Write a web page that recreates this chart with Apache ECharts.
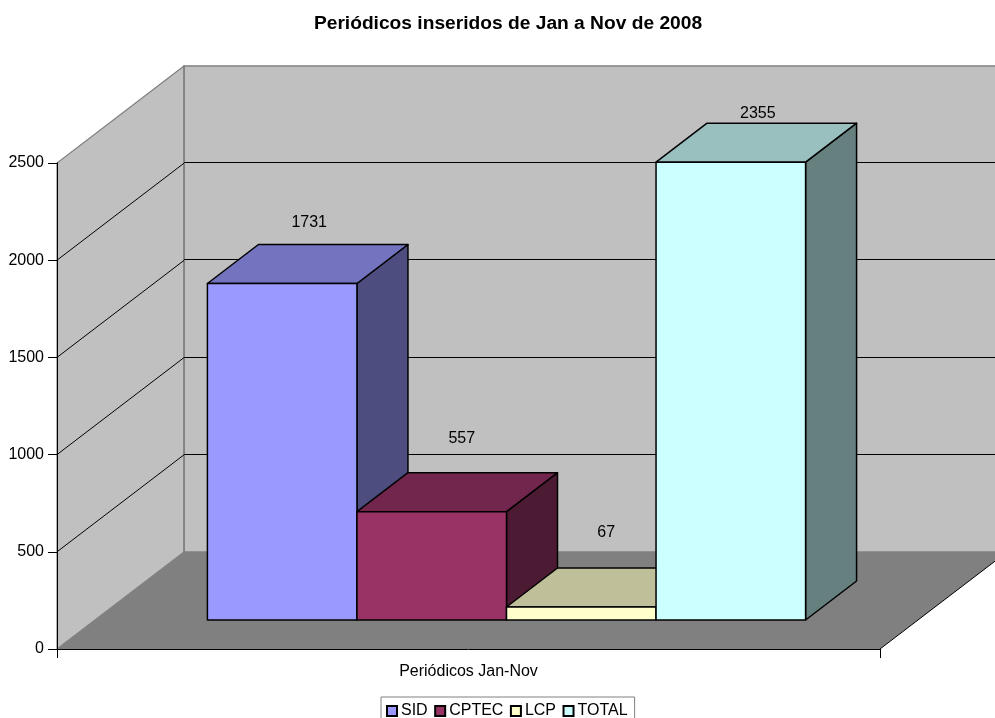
<!DOCTYPE html>
<html>
<head>
<meta charset="utf-8">
<style>html,body{margin:0;padding:0;background:#fff;overflow:hidden}#c{width:995px;height:718px}</style>
<script src="https://cdn.jsdelivr.net/npm/echarts@6/dist/echarts.min.js"></script>
</head>
<body>
<div id="c"></div>
<script>
// --- data ---
const titleText = 'Periódicos inseridos de Jan a Nov de 2008';
const categories = ['Periódicos Jan-Nov'];
const seriesNames = ['SID', 'CPTEC', 'LCP', 'TOTAL'];
const sidValues = [1731];
const cptecValues = [557];
const lcpValues = [67];
const totalValues = [2355];
const yTicks = [0, 500, 1000, 1500, 2000, 2500];

// --- style ---
const frontColors = ['#9999ff', '#993366', '#ffffcc', '#ccffff'];
const topColors = ['#7373bf', '#73264d', '#bfbf99', '#99bfbf'];
const sideColors = ['#4d4d80', '#4d1a33', '#808066', '#668080'];
const labelShiftX = [27, 30, 25, 27];
const labelShiftY = [61, 73, 74, 49];
const FONT = '"Liberation Sans", Arial, sans-serif';
const WALL_DX = 127, WALL_DY = 97;
const BAR_INSET_DX = 38, BAR_INSET_DY = 29;
const BAR_DX = 51, BAR_DY = 39;
const BAR_FRACTION = 0.1817;

const crisp = v => Math.round(v) + 0.5;

function renderWalls(params, api) {
  const base = api.coord([0, 0]);
  const band = api.size([1, 0])[0];
  const x0 = base[0] - band / 2, x1 = base[0] + band / 2, y0 = base[1];
  const yTop = api.coord([0, yTicks[yTicks.length - 1]])[1];
  const children = [];
  const poly = (points, fill, stroke, lw) => children.push({
    type: 'polygon', shape: { points: points },
    style: { fill: fill, stroke: stroke, lineWidth: lw }
  });
  const line = (a, b, stroke, lw) => children.push({
    type: 'line', shape: { x1: a[0], y1: a[1], x2: b[0], y2: b[1] },
    style: { stroke: stroke, lineWidth: lw, fill: null }
  });
  // back wall
  poly([[x0 + WALL_DX, yTop - WALL_DY], [x1 + WALL_DX, yTop - WALL_DY], [x1 + WALL_DX, y0 - WALL_DY], [x0 + WALL_DX, y0 - WALL_DY]], '#c0c0c0', '#808080', 1.5);
  // side wall
  poly([[x0, y0], [x0 + WALL_DX, y0 - WALL_DY], [x0 + WALL_DX, yTop - WALL_DY], [x0, yTop]], '#c0c0c0', '#808080', 1.2);
  // floor
  poly([[x0, y0], [x1, y0], [x1 + WALL_DX, y0 - WALL_DY], [x0 + WALL_DX, y0 - WALL_DY]], '#808080', null, 0);
  line([x1, y0], [x1 + WALL_DX, y0 - WALL_DY], '#000', 1);
  line([x0 + WALL_DX, y0 - WALL_DY], [x0 + WALL_DX, yTop - WALL_DY], '#808080', 1.5);
  // grid lines
  yTicks.slice(1, -1).forEach(v => {
    const y = api.coord([0, v])[1];
    line([x0, y], [x0 + WALL_DX, y - WALL_DY], '#000', 1);
    line([x0 + WALL_DX, crisp(y - WALL_DY) - 1], [x1 + WALL_DX, crisp(y - WALL_DY) - 1], '#000', 1);
  });
  return { type: 'group', children: children };
}

function makeBarRenderer(i) {
  return function (params, api) {
    const value = api.value(1);
    const base = api.coord([0, 0]);
    const band = api.size([1, 0])[0];
    const w = band * BAR_FRACTION;
    const left = base[0] + BAR_INSET_DX + (i - seriesNames.length / 2) * w;
    const right = left + w;
    const bottom = base[1] - BAR_INSET_DY;
    const top = bottom - (base[1] - api.coord([0, value])[1]);
    const edge = { stroke: '#000', lineWidth: 1.5, lineJoin: 'round' };
    const face = (points, fill) => ({
      type: 'polygon', shape: { points: points },
      style: Object.assign({ fill: fill }, edge)
    });
    return {
      type: 'group',
      children: [
        face([[right, bottom], [right + BAR_DX, bottom - BAR_DY], [right + BAR_DX, top - BAR_DY], [right, top]], sideColors[i]),
        face([[left, top], [right, top], [right + BAR_DX, top - BAR_DY], [left + BAR_DX, top - BAR_DY]], topColors[i]),
        face([[left, bottom], [right, bottom], [right, top], [left, top]], frontColors[i]),
        {
          type: 'text',
          z2: 100,
          style: {
            x: (left + right) / 2 + labelShiftX[i],
            y: top - labelShiftY[i],
            text: String(value),
            fill: '#000',
            font: '16px ' + FONT,
            align: 'center',
            verticalAlign: 'middle'
          }
        }
      ]
    };
  };
}

const valueLists = [sidValues, cptecValues, lcpValues, totalValues];
const barSeries = seriesNames.map((name, i) => ({
  type: 'custom',
  name: name,
  z: 3 + i,
  clip: false,
  silent: true,
  renderItem: makeBarRenderer(i),
  encode: { x: 0, y: 1 },
  itemStyle: { color: frontColors[i], borderColor: '#000', borderWidth: 1.3 },
  data: valueLists[i].map((v, k) => [k, v])
}));

const chart = echarts.init(document.getElementById('c'), null, { renderer: 'canvas' });
chart.setOption({
  animation: false,
  backgroundColor: '#ffffff',
  textStyle: { fontFamily: FONT },
  title: {
    text: titleText,
    left: 503,
    top: 9,
    textAlign: 'center',
    textStyle: { fontFamily: FONT, fontSize: 19.2, fontWeight: 'bold', color: '#000' }
  },
  grid: { left: 57, right: 115, top: 163, bottom: 69 },
  xAxis: {
    type: 'category',
    data: categories,
    z: 10,
    axisLine: { lineStyle: { color: '#000', width: 1 } },
    axisTick: { show: true, length: 9, alignWithLabel: false, lineStyle: { color: '#000' } },
    axisLabel: { color: '#000', fontFamily: FONT, fontSize: 16, margin: 15, interval: 0 }
  },
  yAxis: {
    type: 'value',
    min: 0,
    max: 2500,
    interval: 500,
    z: 10,
    splitLine: { show: false },
    axisLine: { show: true, lineStyle: { color: '#000', width: 1 } },
    axisTick: { show: true, length: 9, lineStyle: { color: '#000' } },
    axisLabel: { color: '#000', fontFamily: FONT, fontSize: 16, margin: 13, formatter: v => String(v) }
  },
  legend: {
    left: 381,
    top: 697,
    orient: 'horizontal',
    data: seriesNames.map(n => ({ name: n, icon: 'rect' })),
    itemWidth: 10,
    itemHeight: 10,
    itemGap: 6.5,
    selectedMode: false,
    borderColor: '#808080',
    borderWidth: 1,
    padding: [6, 7, 6, 5],
    textStyle: { fontFamily: FONT, fontSize: 16, color: '#000', padding: [0, 0, 0, -1] }
  },
  series: [{
    type: 'custom',
    name: 'walls',
    z: 1,
    clip: false,
    silent: true,
    renderItem: renderWalls,
    encode: { x: 0, y: 1 },
    data: [[0, 0]]
  }].concat(barSeries)
});
</script>
</body>
</html>
